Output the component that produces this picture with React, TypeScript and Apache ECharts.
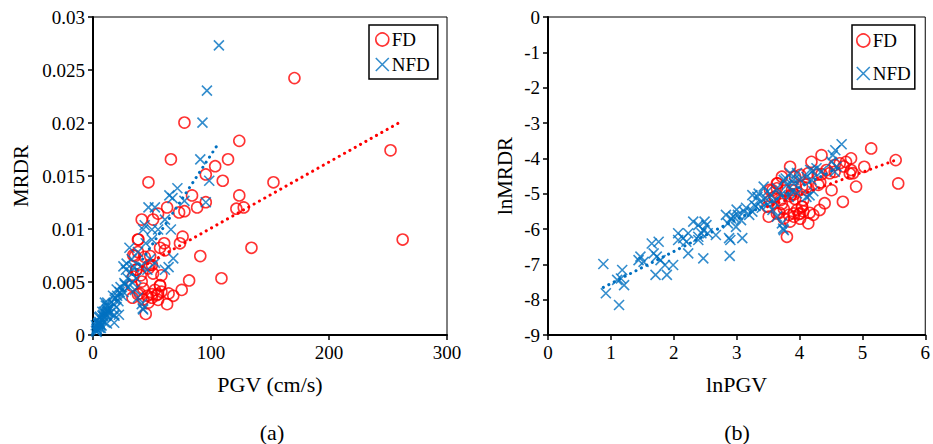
import React, { useEffect, useRef } from "react";
import * as echarts from "echarts";

// FD (flow deformation) cases (b): ln(PGV), ln(MRDR)
const fdLnPgv = [
  5.14, 5.53, 5.57, 5.03, 4.9, 4.82, 4.74, 4.82, 4.85, 4.69, 4.51, 4.4, 4.35, 4.19, 4.32, 4.22,
  4.14, 4.43, 4.48, 4.56, 4.64, 4.04, 4.01, 3.96, 3.91, 4.06, 3.85, 3.93, 4.04, 3.88, 4.14, 4.3,
  3.72, 3.64, 3.6, 3.8, 3.75, 3.83, 3.85, 3.91, 3.51, 3.49, 3.64, 3.57, 3.7, 4.7, 4.56, 4.35,
  4.29, 4.01, 4.33, 4.1, 3.87, 3.64, 4.8, 3.53, 3.61, 3.72, 3.75, 3.68, 3.91, 3.85, 3.93, 4.04,
  3.99, 4.01, 4.06, 4.11, 3.65, 4.16, 3.53, 3.78,
];
const fdLnMrdr = [
  -3.72, -4.05, -4.71, -4.24, -4.8, -4.0, -4.1, -4.33, -4.42, -5.23, -4.9, -5.27, -3.91, -4.1, -5.46, -5.6,
  -5.84, -4.33, -4.42, -4.19, -4.14, -5.37, -5.56, -5.46, -5.65, -5.18, -4.24, -4.52, -4.8, -4.9, -4.42, -4.75,
  -4.52, -4.85, -5.09, -6.22, -5.7, -5.6, -5.79, -5.56, -5.65, -5.37, -5.56, -4.9, -5.18, -4.23, -4.38, -4.45,
  -4.46, -4.47, -4.68, -4.75, -5.02, -4.71, -4.43, -5.2, -5.09, -5.29, -5.43, -5.54, -5.02, -5.07, -5.15, -5.36,
  -5.58, -5.71, -5.5, -4.83, -4.71, -5.54, -4.89, -4.91,
];

// NFD (no flow deformation) cases: ln(PGV), ln(MRDR)
const nfdLnPgv = [
  0.88, 0.92, 1.13, 1.18, 1.16, 1.21, 1.1, 1.47, 1.44, 1.52, 1.65, 1.76, 1.68, 1.73, 1.79, 1.71,
  1.89, 1.86, 1.99, 2.31, 2.39, 2.07, 2.15, 2.2, 2.23, 2.07, 2.23, 2.44, 2.47, 2.39, 2.52, 2.67,
  2.83, 2.89, 2.9, 2.47, 2.49, 2.54, 2.39, 2.88, 2.86, 2.91, 3.02, 3.07, 3.12, 2.99, 3.09, 3.25,
  3.33, 3.28, 3.38, 3.2, 3.25, 3.43, 3.49, 3.46, 3.57, 3.64, 3.72, 3.75, 3.75, 3.8, 3.85, 3.91,
  3.88, 3.83, 3.64, 3.7, 3.6, 4.67, 4.57, 4.53, 4.51, 4.56, 4.59, 4.17, 4.27, 4.11, 4.19, 3.96,
  4.01, 3.91, 3.96, 4.11, 4.21, 4.35, 3.78, 4.16, 4.22, 3.74, 2.95, 3.0, 3.15, 3.3, 3.35, 3.5,
  3.55, 3.4,
];
const nfdLnMrdr = [
  -6.99, -7.82, -8.15, -7.16, -7.4, -7.59, -7.44, -6.78, -6.88, -6.93, -6.41, -6.36, -6.69, -6.78, -6.88, -7.3,
  -7.3, -7.02, -7.02, -5.79, -5.89, -6.31, -6.26, -6.36, -6.69, -6.12, -6.12, -6.12, -6.83, -6.22, -5.89, -6.17,
  -5.6, -6.76, -6.31, -6.03, -5.79, -6.12, -6.31, -6.26, -5.84, -5.7, -5.6, -5.75, -5.51, -5.94, -6.26, -5.04,
  -5.09, -5.32, -5.23, -5.6, -5.51, -4.8, -4.94, -5.13, -5.46, -5.65, -5.84, -6.03, -4.61, -4.75, -4.42, -4.61,
  -4.94, -5.09, -4.85, -5.04, -5.23, -3.6, -3.77, -3.91, -4.1, -4.38, -4.23, -4.33, -4.28, -4.52, -4.61, -4.42,
  -4.61, -4.71, -4.99, -5.09, -4.35, -4.37, -4.57, -5.05, -4.93, -5.99, -5.65, -5.45, -5.4, -5.35, -5.0, -5.3,
  -5.05, -5.4,
];

// linear trend lines (slope, intercept)
const trendFdA = [0.0000624, 0.00384];
const trendNfdA = [0.00017, 0];
const trendFdB = [0.647, -7.628];
const trendNfdB = [0.907, -8.45];

const xTicksA = [0, 100, 200, 300];
const yTicksA = [0, 0.005, 0.01, 0.015, 0.02, 0.025, 0.03];
const xTicksB = [0, 1, 2, 3, 4, 5, 6];
const yTicksB = [-9, -8, -7, -6, -5, -4, -3, -2, -1, 0];

const RED = "#FF0000";
const BLUE = "#0070C0";
const FONT = "'Liberation Serif', 'Times New Roman', serif";
const CROSS = "path://M0,0L10,10M10,0L0,10";

function pairs(xs: number[], ys: number[]) {
  return xs.map((x, i) => [x, ys[i]]);
}
function trend(xs: number[], coef: number[]) {
  const lo = Math.min(...xs);
  const hi = Math.max(...xs);
  return [
    [lo, coef[0] * lo + coef[1]],
    [hi, coef[0] * hi + coef[1]],
  ];
}

export default function App() {
  const ref = useRef<HTMLDivElement>(null);
  useEffect(() => {
    if (!ref.current) return;
    const chart = echarts.init(ref.current, undefined, { renderer: "svg" });

    const fdPgv = fdLnPgv.map(Math.exp);
    const fdMrdr = fdLnMrdr.map(Math.exp);
    const nfdPgv = nfdLnPgv.map(Math.exp);
    const nfdMrdr = nfdLnMrdr.map(Math.exp);

    const labelStyle = { color: "#000", fontFamily: FONT, fontSize: 19, margin: 8 };
    const axisCommon = {
      axisLine: { show: true, onZero: false, lineStyle: { color: "#000", width: 2 } },
      axisTick: { show: true, inside: false, length: 5, lineStyle: { color: "#000", width: 1.5 } },
      splitLine: { show: false },
      axisLabel: labelStyle,
      nameLocation: "middle" as const,
    };
    const xName = { color: "#000", fontFamily: FONT, fontSize: 22 };
    const yName = { color: "#000", fontFamily: FONT, fontSize: 21 };

    const fdItem = { color: "rgba(0,0,0,0)", borderColor: RED, borderWidth: 1.6 };
    const nfdItem = { color: "rgba(0,0,0,0)", borderColor: BLUE, borderWidth: 1.6 };
    const dotted = (c: string) => ({ color: c, width: 3, type: [0.1, 6] as any, cap: "round" as const });

    const legendBase = {
      orient: "vertical" as const,
      backgroundColor: "#fff",
      borderColor: "#000",
      borderWidth: 1.5,
      borderRadius: 0,
      itemWidth: 13,
      itemHeight: 13,
      itemGap: 6,
      textStyle: { color: "#000", fontFamily: FONT, fontSize: 19, padding: [0, 0, 0, -2] },
      data: [
        { name: "FD", icon: "circle", itemStyle: fdItem },
        { name: "NFD", icon: CROSS, itemStyle: nfdItem },
      ],
      selectedMode: false,
    };

    chart.setOption({
      animation: false,
      backgroundColor: "#fff",
      textStyle: { fontFamily: FONT },
      grid: [
        { left: 93, top: 17, width: 354, height: 318, show: true, borderColor: "#000", borderWidth: 1, backgroundColor: "transparent" },
        { left: 548, top: 17, width: 382, height: 318, show: true, borderColor: "#000", borderWidth: 1, backgroundColor: "transparent" },
      ],
      xAxis: [
        {
          ...axisCommon, type: "value", gridIndex: 0,
          min: xTicksA[0], max: xTicksA[xTicksA.length - 1], interval: 100,
          name: "PGV (cm/s)", nameGap: 38, nameTextStyle: xName,
        },
        {
          ...axisCommon, type: "value", gridIndex: 1,
          min: xTicksB[0], max: xTicksB[xTicksB.length - 1], interval: 1,
          name: "lnPGV", nameGap: 38, nameTextStyle: xName,
        },
      ],
      yAxis: [
        {
          ...axisCommon, type: "value", gridIndex: 0,
          min: yTicksA[0], max: yTicksA[yTicksA.length - 1], interval: 0.005,
          name: "MRDR", nameGap: 62, nameTextStyle: yName,
          axisLabel: { ...labelStyle, formatter: (v: number) => String(+v.toFixed(3)) },
        },
        {
          ...axisCommon, type: "value", gridIndex: 1,
          min: yTicksB[0], max: yTicksB[yTicksB.length - 1], interval: 1,
          name: "lnMRDR", nameGap: 33, nameTextStyle: yName,
        },
      ],
      legend: [
        { ...legendBase, left: 369, top: 25, padding: [5, 8, 5, 6] },
        { ...legendBase, left: 852, top: 25, itemGap: 14, padding: [6, 4, 6, 4] },
      ],
      series: [
        { name: "FD", type: "scatter", xAxisIndex: 0, yAxisIndex: 0, symbol: "circle", symbolSize: 11, itemStyle: fdItem, data: pairs(fdPgv, fdMrdr) },
        { name: "NFD", type: "scatter", xAxisIndex: 0, yAxisIndex: 0, symbol: CROSS, symbolSize: 10, itemStyle: nfdItem, data: pairs(nfdPgv, nfdMrdr) },
        { name: "FD trend (a)", type: "line", xAxisIndex: 0, yAxisIndex: 0, showSymbol: false, symbol: "none", lineStyle: dotted(RED), data: trend(fdPgv, trendFdA), z: 3 },
        { name: "NFD trend (a)", type: "line", xAxisIndex: 0, yAxisIndex: 0, showSymbol: false, symbol: "none", lineStyle: dotted(BLUE), data: trend(nfdPgv, trendNfdA), z: 3 },
        { name: "FD", type: "scatter", xAxisIndex: 1, yAxisIndex: 1, symbol: "circle", symbolSize: 11, itemStyle: fdItem, data: pairs(fdLnPgv, fdLnMrdr) },
        { name: "NFD", type: "scatter", xAxisIndex: 1, yAxisIndex: 1, symbol: CROSS, symbolSize: 10, itemStyle: nfdItem, data: pairs(nfdLnPgv, nfdLnMrdr) },
        { name: "FD trend (b)", type: "line", xAxisIndex: 1, yAxisIndex: 1, showSymbol: false, symbol: "none", lineStyle: dotted(RED), data: trend(fdLnPgv, trendFdB), z: 3 },
        { name: "NFD trend (b)", type: "line", xAxisIndex: 1, yAxisIndex: 1, showSymbol: false, symbol: "none", lineStyle: dotted(BLUE), data: trend(nfdLnPgv, trendNfdB), z: 3 },
      ],
      graphic: [
        { type: "text", x: 272, y: 432, style: { text: "(a)", fontFamily: FONT, fontSize: 22, fill: "#000", textAlign: "center", textVerticalAlign: "middle" } },
        { type: "text", x: 737, y: 432, style: { text: "(b)", fontFamily: FONT, fontSize: 22, fill: "#000", textAlign: "center", textVerticalAlign: "middle" } },
      ],
    });
    return () => chart.dispose();
  }, []);
  return (
    <div
      ref={ref}
      style={{ position: "fixed", left: 0, top: 0, width: 933, height: 444, background: "#fff", fontFamily: "Liberation Serif" }}
    />
  );
}
